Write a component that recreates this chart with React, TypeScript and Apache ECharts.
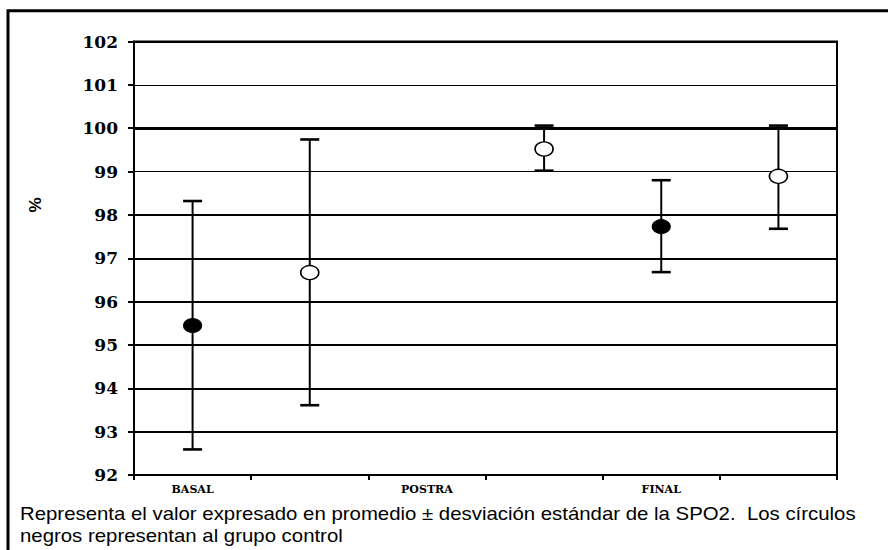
import React, { useEffect, useRef } from "react";
import * as echarts from "echarts";

const categories = ["BASAL", "", "POSTRA", "", "FINAL", ""];
const controlMean = [95.45, null, null, null, 97.73, null];
const controlLow = [92.59, null, null, null, 96.68, null];
const controlHigh = [98.32, null, null, null, 98.8, null];
const groupMean = [null, 96.67, null, 99.52, null, 98.89];
const groupLow = [null, 93.61, null, 99.02, null, 97.68];
const groupHigh = [null, 99.74, null, 100.06, null, 100.06];
const yTicks = [92, 93, 94, 95, 96, 97, 98, 99, 100, 101, 102];
const yAxisName = "%";
const captionLines = [
  "Representa el valor expresado en promedio ± desviación estándar de la SPO2.  Los círculos",
  "negros representan al grupo control",
];

function errData(low: (number | null)[], high: (number | null)[]) {
  const out: number[][] = [];
  low.forEach((l, i) => {
    const h = high[i];
    if (l != null && h != null) out.push([i, l, h]);
  });
  return out;
}

export default function App() {
  const ref = useRef<HTMLDivElement>(null);
  useEffect(() => {
    if (!ref.current) return;
    const chart = echarts.init(ref.current, null, { renderer: "svg" });
    const renderErr = (params: any, api: any) => {
      const x = api.value(0);
      const pLo = api.coord([x, api.value(1)]);
      const pHi = api.coord([x, api.value(2)]);
      const half = 9.5;
      const vStyle = { stroke: "#000", lineWidth: 2 };
      const cStyle = { stroke: "#000", lineWidth: 2.6 };
      return {
        type: "group",
        children: [
          { type: "line", shape: { x1: pLo[0], y1: pLo[1], x2: pHi[0], y2: pHi[1] }, style: vStyle },
          { type: "line", shape: { x1: pLo[0] - half, y1: pLo[1], x2: pLo[0] + half, y2: pLo[1] }, style: cStyle },
          { type: "line", shape: { x1: pHi[0] - half, y1: pHi[1], x2: pHi[0] + half, y2: pHi[1] }, style: cStyle },
        ],
      };
    };
    const gridLineWidth = (v: number) => (v === 100 ? 3.2 : v === 101 || v === 99 ? 1.2 : 2.2);
    chart.setOption({
      animation: false,
      backgroundColor: "#fff",
      grid: {
        left: 134,
        right: 51,
        top: 41.5,
        bottom: 75,
        show: true,
        borderColor: "#000",
        borderWidth: 2,
        containLabel: false,
      },
      xAxis: {
        type: "category",
        data: categories,
        boundaryGap: true,
        axisLine: { show: true, lineStyle: { color: "#000", width: 2 } },
        axisTick: { show: true, length: 5, interval: 0, lineStyle: { color: "#000", width: 2 } },
        axisLabel: {
          interval: 0,
          margin: 9,
          color: "#000",
          fontFamily: "DejaVu Serif",
          fontWeight: "bold",
          fontSize: 11,
        },
        splitLine: { show: false },
      },
      yAxis: {
        type: "value",
        min: yTicks[0],
        max: yTicks[yTicks.length - 1],
        interval: 1,
        axisLine: { show: true, lineStyle: { color: "#000", width: 2 } },
        axisTick: { show: true, length: 6, lineStyle: { color: "#000", width: 2 } },
        axisLabel: {
          margin: 16,
          color: "#000",
          fontFamily: "DejaVu Serif",
          fontWeight: "bold",
          fontSize: 17,
        },
        splitLine: { show: false },
      },
      graphic: [
        {
          type: "rect",
          shape: { x: 8, y: 10.7, width: 1000, height: 1000 },
          style: { fill: "none", stroke: "#000", lineWidth: 3 },
          silent: true,
        },
        {
          type: "text",
          x: 35,
          y: 205,
          rotation: Math.PI / 2,
          style: {
            text: yAxisName,
            fontSize: 17,
            fontWeight: "bold",
            fontFamily: "Liberation Sans",
            fill: "#000",
            align: "center",
            verticalAlign: "middle",
          },
        },
        ...captionLines.map((t, i) => ({
          type: "text",
          x: 20,
          y: 514 + i * 22,
          scaleX: 1.165,
          style: {
            text: t,
            fontSize: 17.5,
            fontFamily: "Liberation Sans",
            fill: "#000",
            align: "left",
            verticalAlign: "middle",
          },
        })),
      ],
      series: [
        {
          type: "line",
          data: [],
          z: 1,
          markLine: {
            silent: true,
            symbol: "none",
            label: { show: false },
            data: yTicks
              .filter((v) => v !== yTicks[0])
              .map((v) => ({ yAxis: v, lineStyle: { color: "#000", type: "solid", width: gridLineWidth(v) } })),
          },
        },
        {
          type: "custom",
          z: 3,
          renderItem: renderErr,
          data: errData(controlLow, controlHigh),
        },
        {
          type: "custom",
          z: 3,
          renderItem: renderErr,
          data: errData(groupLow, groupHigh),
        },
        {
          type: "scatter",
          z: 5,
          data: controlMean,
          symbol: "circle",
          symbolSize: [18, 14],
          itemStyle: { color: "#000", borderColor: "#000", borderWidth: 1, opacity: 1 },
        },
        {
          type: "scatter",
          z: 5,
          data: groupMean,
          symbol: "circle",
          symbolSize: [18, 14],
          itemStyle: { color: "#fff", borderColor: "#000", borderWidth: 1.5, opacity: 1 },
        },
      ],
    });
    return () => chart.dispose();
  }, []);
  return (
    <div
      ref={ref}
      style={{ position: "absolute", left: 0, top: 0, width: 888, height: 550, background: "#fff" }}
    />
  );
}
